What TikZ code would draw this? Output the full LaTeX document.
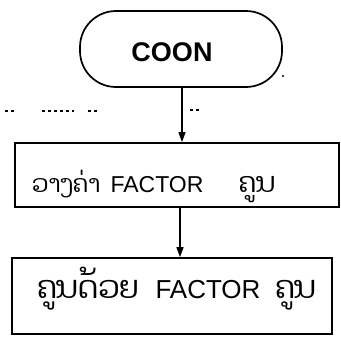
\documentclass[tikz,border=0pt]{standalone}
\usepackage{fontspec}
\setmainfont{Liberation Sans}
\newfontfamily\laofont[Script=Lao,Scale=1.2]{Dhyana}
\usetikzlibrary{arrows.meta}
\begin{document}
\begin{tikzpicture}[x=1pt,y=-1pt,
  line width=1.7pt,
  terminal/.style={draw, rounded corners=36pt, minimum width=202pt, minimum height=76pt, inner sep=0pt},
  procbox/.style={draw, inner sep=0pt},
  word/.style={inner sep=0pt, anchor=base},
  flow/.style={-{Triangle[length=10pt,width=7pt]}, line width=1.4pt},
  specks/.style={line width=1.4pt, dash pattern=on 3pt off 3pt}
]
\useasboundingbox (0,0) rectangle (341,338);

% start symbol
\node[terminal] (start) at (181,49) {};
\node[font=\bfseries\fontsize{27}{30}\selectfont] (startlbl) at (172,52) {COON};

% first step
\node[procbox, minimum width=324pt, minimum height=64pt] (setf) at (177,175) {};
\begin{scope}[every node/.style={word, font=\fontsize{23}{26}\selectfont}]
  \node[font=\fontsize{20}{24}\selectfont] (setfa) at (66,192) {\laofont ວາງຄ່າ};
  \node (setfb) at (157,192) {FACTOR};
  \node (setfc) at (257,192) {\laofont ຄູນ};
\end{scope}

% second step
\node[procbox, minimum width=320pt, minimum height=76pt] (mulf) at (172,296) {};
\begin{scope}[every node/.style={word, font=\fontsize{26}{28}\selectfont}]
  \node (mulfa) at (88,298) {\laofont ຄູນດ້ວຍ};
  \node (mulfb) at (208,298) {FACTOR};
  \node (mulfc) at (296,298) {\laofont ຄູນ};
\end{scope}

% connectors
\draw[flow] (start.south -| 182,0) -- (setf.north -| 182,0);
\draw[flow] (setf.south -| 180,0) -- (mulf.north -| 180,0);

% scanner specks
\coordinate (s1) at (5,111);
\coordinate (s2) at (14,111);
\coordinate (s3) at (42,111);
\coordinate (s4) at (74,111);
\coordinate (s5) at (88,111);
\coordinate (s6) at (98,111);
\coordinate (s7) at (190,110);
\coordinate (s8) at (200,110);
\draw[specks] (s1) -- (s2);
\draw[specks] (s3) -- (s4);
\draw[specks] (s5) -- (s6);
\draw[specks] (s7) -- (s8);
\fill (283,76) circle (1.2pt);
\end{tikzpicture}
\end{document}
